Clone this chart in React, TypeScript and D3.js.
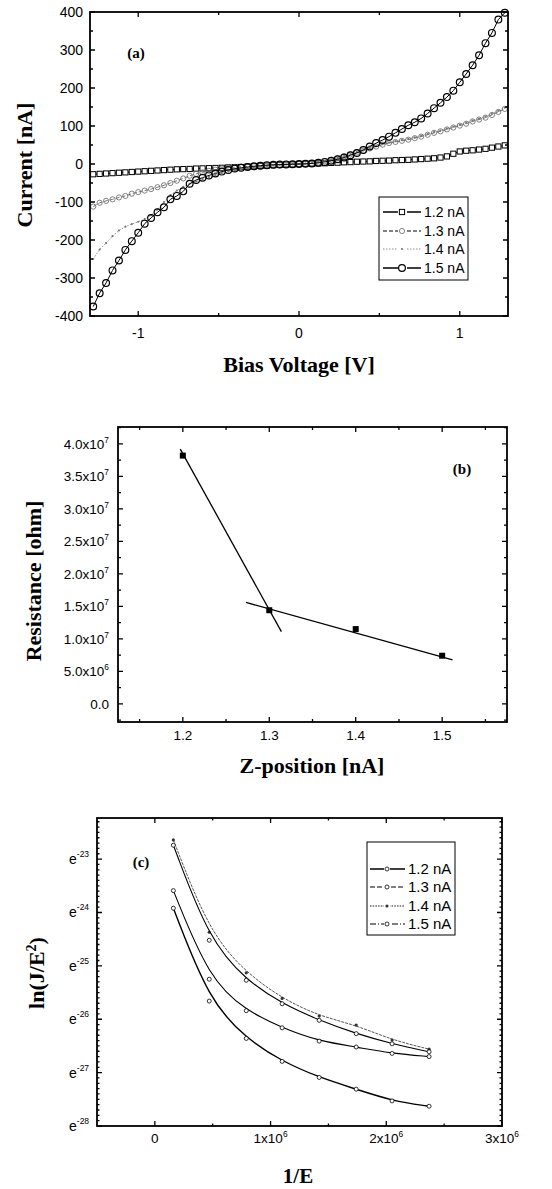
import React from 'react';
import * as d3 from 'd3';

// ---- panel (a): I-V curves ----
const voltage = [
  -1.28, -1.24, -1.2, -1.16, -1.12, -1.08, -1.04, -1, -0.96, -0.92, -0.88, -0.84, -0.8, -0.76, -0.72, -0.68,
  -0.64, -0.6, -0.56, -0.52, -0.48, -0.44, -0.4, -0.36, -0.32, -0.28, -0.24, -0.2, -0.16, -0.12, -0.08, -0.04,
  0,
  0.04, 0.08, 0.12, 0.16, 0.2, 0.24, 0.28, 0.32, 0.36, 0.4, 0.44, 0.48, 0.52, 0.56, 0.6, 0.64,
  0.68, 0.72, 0.76, 0.8, 0.84, 0.88, 0.92, 0.96, 1, 1.04, 1.08, 1.12, 1.16, 1.2, 1.24, 1.28,
];
const current12 = [
  -27, -26, -25, -24, -23, -22, -21, -20, -19, -18, -17, -16, -15, -14, -13.5, -13,
  -12, -11.5, -11, -10.5, -10, -9, -8.5, -8, -7, -6, -5, -4, -3, -2.5, -1.5, -1,
  0,
  0.5, 1, 1.5, 2, 3, 3.5, 4.5, 5, 6, 6.5, 7, 8, 8.5, 9, 10, 10.5,
  11, 12, 13, 14, 15, 17, 20, 27, 33, 35, 36, 38, 40, 43, 46, 49,
];
const current13 = [
  -112, -102, -97, -93, -88, -84, -78, -74, -70, -66, -61, -56, -50, -44, -38, -31,
  -26, -22, -18, -15, -12, -10, -8.5, -7, -6, -5, -4, -3, -2, -1.5, -1, -0.5,
  0,
  0.5, 1.5, 4, 7, 11, 15, 20, 25, 30, 35, 41, 46, 51, 55, 58, 61,
  64, 68, 72, 77, 82, 86, 91, 96, 101, 106, 112, 117, 122, 129, 137, 145,
];
const current14 = [
  -250, -225, -208, -190, -175, -165, -158, -152, -145, -135, -120, -100, -82, -70, -60, -52,
  -46, -40, -34, -29, -24, -20, -17, -14, -11, -9, -7, -5, -3.5, -2.5, -1.5, -0.5,
  0,
  1, 2.5, 5, 8, 12, 16, 21, 26, 31, 36, 42, 47, 52, 56, 60, 63,
  66, 70, 74, 79, 84, 88, 93, 98, 103, 108, 114, 119, 125, 132, 140, 148,
];
const current15 = [
  -375, -340, -313, -280, -254, -226, -203, -181, -157, -142, -127, -114, -93, -84, -72, -52,
  -42, -36, -30, -25, -20, -16, -12, -10, -8, -6, -4.5, -3, -2, -1.5, -1, -0.5,
  0,
  0.5, 1.5, 3, 5.5, 8.5, 12.5, 17, 23, 29, 37, 46, 55, 63, 72, 82, 92,
  102, 110, 120, 133, 147, 161, 176, 193, 215, 237, 260, 286, 318, 345, 380, 398,
];
const seriesLabels = ['1.2 nA', '1.3 nA', '1.4 nA', '1.5 nA'];
const currentTicks = [-400, -300, -200, -100, 0, 100, 200, 300, 400];
const voltageTicks = [-1, 0, 1];

// ---- panel (b): resistance ----
const zPosition = [1.2, 1.3, 1.4, 1.5];
const resistance = [3.82e7, 1.44e7, 1.15e7, 7.4e6];
const steepFitZ = [1.197, 1.314];
const steepFitR = [3.92e7, 1.11e7];
const flatFitZ = [1.273, 1.512];
const flatFitR = [1.56e7, 6.77e6];
const resistanceTicks = [0, 5e6, 1e7, 1.5e7, 2e7, 2.5e7, 3e7, 3.5e7, 4e7];
const resistanceLabels = ['0.0', '5.0x10|6', '1.0x10|7', '1.5x10|7', '2.0x10|7', '2.5x10|7', '3.0x10|7', '3.5x10|7', '4.0x10|7'];
const zTicks = [1.2, 1.3, 1.4, 1.5];

// ---- panel (c): Fowler-Nordheim ----
const inverseE = [0.16e6, 0.47e6, 0.79e6, 1.1e6, 1.42e6, 1.74e6, 2.05e6, 2.37e6];
const lnJ12 = [-23.92, -25.66, -26.36, -26.79, -27.09, -27.31, -27.53, -27.63];
const lnJ13 = [-23.59, -25.25, -25.84, -26.16, -26.41, -26.52, -26.64, -26.7];
const lnJ14 = [-22.64, -24.37, -25.13, -25.61, -25.94, -26.11, -26.39, -26.56];
const lnJ15 = [-22.74, -24.52, -25.27, -25.71, -26.02, -26.27, -26.46, -26.61];
const lnTicks = [-23, -24, -25, -26, -27, -28];
const invETicks = [0, 1e6, 2e6, 3e6];
const invELabels = ['0', '1x10|6', '2x10|6', '3x10|6'];

const SANS = "'Liberation Sans', Arial, sans-serif";
const SERIF = "'Liberation Serif', 'Times New Roman', serif";

function Sup({x, y, text, anchor, size = 13.5}) {
  const [base, sup] = text.split('|');
  return (
    <text x={x} y={y} textAnchor={anchor} fontFamily={SANS} fontSize={size} fill="#000">
      {base}
      {sup !== undefined && <tspan fontSize={size * 0.62} dy={-6}>{sup}</tspan>}
    </text>
  );
}

function Frame({x, y, xMajor, xMinor, yMajor, yMinor, major = 5, minor = 3}) {
  const [x0, x1] = x.range();
  const [y0, y1] = y.range();
  let d = '';
  xMajor.forEach(v => { const p = x(v); d += `M${p},${y0}v${-major}M${p},${y1}v${major}`; });
  xMinor.forEach(v => { const p = x(v); d += `M${p},${y0}v${-minor}M${p},${y1}v${minor}`; });
  yMajor.forEach(v => { const p = y(v); d += `M${x0},${p}h${major}M${x1},${p}h${-major}`; });
  yMinor.forEach(v => { const p = y(v); d += `M${x0},${p}h${minor}M${x1},${p}h${-minor}`; });
  return (
    <g>
      <path d={d} stroke="#000" strokeWidth={1.3} fill="none" />
      <rect x={x0} y={y1} width={x1 - x0} height={y0 - y1} fill="none" stroke="#000" strokeWidth={1.8} />
    </g>
  );
}

function Marker({kind, x, y}) {
  if (kind === 'square') return <rect x={x - 2.6} y={y - 2.6} width={5.2} height={5.2} fill="#fff" stroke="#000" strokeWidth={1} />;
  if (kind === 'smallCircle') return <circle cx={x} cy={y} r={2.6} fill="none" stroke="#666" strokeWidth={0.8} />;
  if (kind === 'dot') return <circle cx={x} cy={y} r={1.1} fill="#777" />;
  if (kind === 'circle') return <circle cx={x} cy={y} r={3.4} fill="none" stroke="#000" strokeWidth={1.2} />;
  if (kind === 'tinyCircle') return <circle cx={x} cy={y} r={2} fill="#fff" stroke="#000" strokeWidth={0.8} />;
  if (kind === 'star') return <circle cx={x} cy={y} r={1.6} fill="#333" />;
  return null;
}

function PanelA() {
  const x = d3.scaleLinear([-1.3, 1.3], [90, 508]);
  const y = d3.scaleLinear([-400, 400], [316, 12]);
  const series = [
    {values: current12, marker: 'square', stroke: '#000', width: 1, dash: null},
    {values: current13, marker: 'smallCircle', stroke: '#555', width: 0.8, dash: '4,2'},
    {values: current14, marker: 'dot', stroke: '#777', width: 0.8, dash: '1.5,1.5'},
    {values: current15, marker: 'circle', stroke: '#000', width: 1, dash: null},
  ];
  const line = d3.line<number>().x((d, i) => x(voltage[i])).y(d => y(d));
  const legendRows = [212, 231, 249, 268];
  return (
    <g>
      {series.map((s, k) => (
        <g key={k}>
          <path d={line(s.values)!} fill="none" stroke={s.stroke} strokeWidth={s.width} strokeDasharray={s.dash || undefined} />
          {s.values.map((v, i) => <Marker key={i} kind={s.marker} x={x(voltage[i])} y={y(v)} />)}
        </g>
      ))}
      <Frame x={x} y={y} xMajor={voltageTicks} xMinor={[-0.5, 0.5]}
        yMajor={currentTicks} yMinor={d3.range(-350, 400, 100)} />
      {currentTicks.map(t => (
        <text key={t} x={83} y={y(t) + 5} textAnchor="end" fontFamily={SANS} fontSize={14}>{t}</text>
      ))}
      {voltageTicks.map(t => (
        <text key={t} x={x(t)} y={338} textAnchor="middle" fontFamily={SANS} fontSize={14}>{t}</text>
      ))}
      <text x={136} y={58} textAnchor="middle" fontFamily={SERIF} fontWeight="bold" fontSize={15}>(a)</text>
      <text x={299} y={372} textAnchor="middle" fontFamily={SERIF} fontWeight="bold" fontSize={22}>Bias Voltage [V]</text>
      <text transform="translate(32,165) rotate(-90)" textAnchor="middle" fontFamily={SERIF} fontWeight="bold" fontSize={22}>Current [nA]</text>
      <rect x={379} y={197} width={89} height={83} fill="#fff" stroke="#000" strokeWidth={1} />
      {series.map((s, k) => (
        <g key={k}>
          <line x1={383} x2={421} y1={legendRows[k]} y2={legendRows[k]} stroke={s.stroke} strokeWidth={s.marker === 'dot' ? 0.8 : 1.3} strokeDasharray={s.dash || undefined} />
          <rect x={398} y={legendRows[k] - 4} width={9} height={8} fill="#fff" />
          <Marker kind={s.marker} x={402} y={legendRows[k]} />
          <text x={424} y={legendRows[k] + 5} fontFamily={SANS} fontSize={14}>{seriesLabels[k]}</text>
        </g>
      ))}
    </g>
  );
}

function PanelB() {
  const x = d3.scaleLinear([1.125, 1.575], [118, 507]);
  const y = d3.scaleLinear([-2.8e6, 4.26e7], [722, 427]);
  return (
    <g>
      <line x1={x(steepFitZ[0])} y1={y(steepFitR[0])} x2={x(steepFitZ[1])} y2={y(steepFitR[1])} stroke="#000" strokeWidth={1.3} />
      <line x1={x(flatFitZ[0])} y1={y(flatFitR[0])} x2={x(flatFitZ[1])} y2={y(flatFitR[1])} stroke="#000" strokeWidth={1.3} />
      {zPosition.map((z, i) => (
        <rect key={i} x={x(z) - 3} y={y(resistance[i]) - 3} width={6} height={6} fill="#000" />
      ))}
      <Frame x={x} y={y} xMajor={zTicks} xMinor={[1.15, 1.25, 1.35, 1.45, 1.55]}
        yMajor={resistanceTicks} yMinor={d3.range(-2.5e6, 4.3e7, 5e6)} />
      {resistanceTicks.map((t, i) => (
        <Sup key={t} x={109} y={y(t) + 5} anchor="end" text={resistanceLabels[i]} />
      ))}
      {zTicks.map(t => (
        <text key={t} x={x(t)} y={740} textAnchor="middle" fontFamily={SANS} fontSize={13.5}>{t.toFixed(1)}</text>
      ))}
      <text x={462} y={474} textAnchor="middle" fontFamily={SERIF} fontWeight="bold" fontSize={15}>(b)</text>
      <text x={312} y={773} textAnchor="middle" fontFamily={SERIF} fontWeight="bold" fontSize={22}>Z-position [nA]</text>
      <text transform="translate(41,581) rotate(-90)" textAnchor="middle" fontFamily={SERIF} fontWeight="bold" fontSize={22}>Resistance [ohm]</text>
    </g>
  );
}

function PanelC() {
  const x = d3.scaleLinear([-0.5e6, 3e6], [97, 502]);
  const y = d3.scaleLinear([-28, -22.23], [1126, 818]);
  const series = [
    {values: lnJ12, marker: 'tinyCircle', width: 1.4, dash: null},
    {values: lnJ13, marker: 'tinyCircle', width: 1.1, dash: '5,2'},
    {values: lnJ14, marker: 'star', width: 0.9, dash: '1.5,1.2'},
    {values: lnJ15, marker: 'tinyCircle', width: 1.1, dash: '6,2,1,2'},
  ];
  const plotStyles = [null, null, '3,1', null];
  const line = d3.line<number>().x((d, i) => x(inverseE[i])).y(d => y(d)).curve(d3.curveBasis);
  const legendRows = [869, 887, 906, 924];
  const minorY = d3.range(-27.9, -22.2, 0.1).filter(v => Math.abs(v - Math.round(v)) > 0.02);
  return (
    <g>
      {series.map((s, k) => (
        <g key={k}>
          <path d={line(s.values)!} fill="none" stroke={k === 2 ? '#444' : '#000'} strokeWidth={s.width} strokeDasharray={plotStyles[k] || undefined} />
          {s.values.map((v, i) => <Marker key={i} kind={s.marker} x={x(inverseE[i])} y={y(v)} />)}
        </g>
      ))}
      <Frame x={x} y={y} xMajor={invETicks} xMinor={[0.5e6, 1.5e6, 2.5e6]}
        yMajor={lnTicks} yMinor={minorY} minor={2.5} />
      {lnTicks.map(t => (
        <text key={t} x={69} y={y(t) + 5} fontFamily={SANS} fontSize={14}>
          e<tspan fontSize={8.5} dy={-7}>{t}</tspan>
        </text>
      ))}
      {invETicks.map((t, i) => (
        <Sup key={t} x={x(t)} y={1143} anchor="middle" text={invELabels[i]} />
      ))}
      <text x={141} y={867} textAnchor="middle" fontFamily={SERIF} fontWeight="bold" fontSize={15}>(c)</text>
      <text x={298} y={1183} textAnchor="middle" fontFamily={SERIF} fontWeight="bold" fontSize={21}>1/E</text>
      <text transform="translate(44,973) rotate(-90)" textAnchor="middle" fontFamily={SERIF} fontWeight="bold" fontSize={22}>
        ln(J/E<tspan fontSize={14} dy={-8}>2</tspan><tspan dy={8}>)</tspan>
      </text>
      <rect x={367} y={842} width={88} height={93} fill="#fff" stroke="#000" strokeWidth={1} />
      {series.map((s, k) => (
        <g key={k}>
          <line x1={370} x2={405} y1={legendRows[k]} y2={legendRows[k]} stroke="#000" strokeWidth={s.width} strokeDasharray={s.dash || undefined} />
          <rect x={384} y={legendRows[k] - 3} width={6} height={6} fill="#fff" />
          <Marker kind={s.marker} x={387} y={legendRows[k]} />
          <text x={408} y={legendRows[k] + 5} fontFamily={SANS} fontSize={15}>{seriesLabels[k]}</text>
        </g>
      ))}
    </g>
  );
}

export default function App() {
  return (
    <svg width={552} height={1189} style={{position: 'absolute', left: 0, top: 0, background: '#fff'}}>
      <rect width={552} height={1189} fill="#fff" />
      <PanelA />
      <PanelB />
      <PanelC />
    </svg>
  );
}
